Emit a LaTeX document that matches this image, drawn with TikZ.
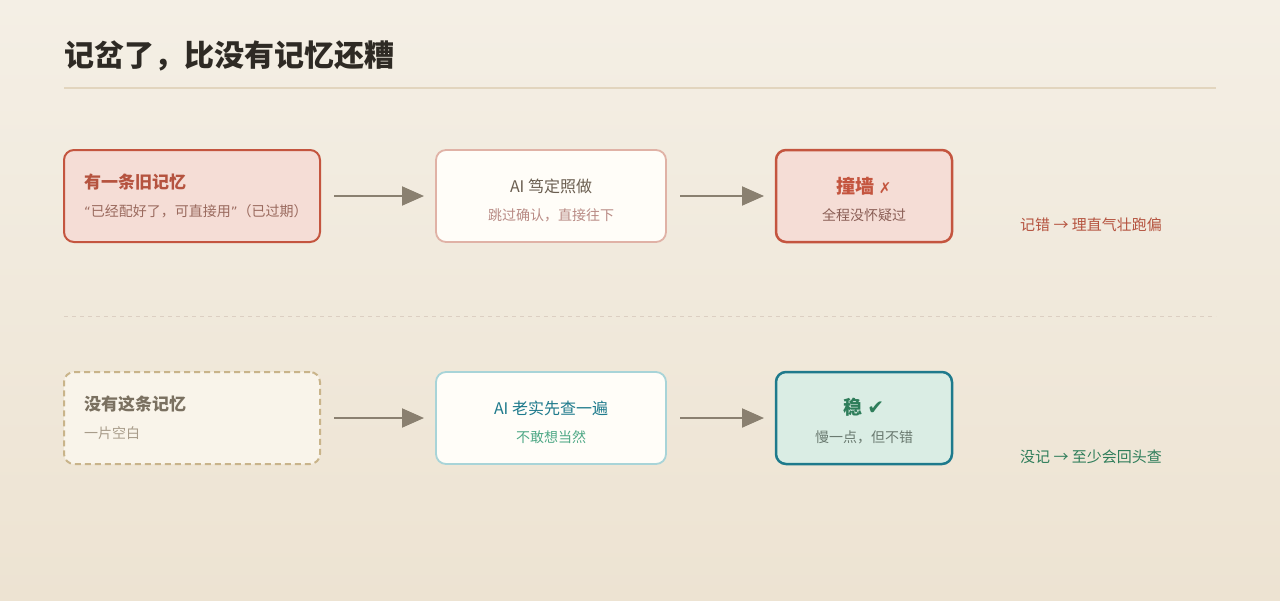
\documentclass[tikz,border=0pt]{standalone}
\usepackage{fontspec}
\setmainfont{Noto Sans CJK SC}
\newfontfamily\symf{DejaVu Sans}
\usetikzlibrary{arrows.meta}
\definecolor{bgtop}{HTML}{F4EFE5}
\definecolor{bgbot}{HTML}{EDE3D2}
\definecolor{ink}{HTML}{2E2A24}
\definecolor{rule}{HTML}{E2D5BE}
\definecolor{redb}{HTML}{C4553F}
\definecolor{redf}{HTML}{F5DDD6}
\definecolor{redt}{HTML}{B5533F}
\definecolor{reds}{HTML}{9A6A5E}
\definecolor{paper}{HTML}{FFFDF8}
\definecolor{pinkb}{HTML}{E0B2A6}
\definecolor{greyt}{HTML}{6A5E50}
\definecolor{pinks}{HTML}{B88A84}
\definecolor{brs}{HTML}{8A5E55}
\definecolor{sandf}{HTML}{F9F4EA}
\definecolor{sandb}{HTML}{C9B48A}
\definecolor{olive}{HTML}{7A7060}
\definecolor{olives}{HTML}{A89C8A}
\definecolor{tealb}{HTML}{A8D4D8}
\definecolor{tealt}{HTML}{1E7A8C}
\definecolor{mint}{HTML}{4FA886}
\definecolor{greenf}{HTML}{DAEDE4}
\definecolor{greent}{HTML}{2E7D5A}
\definecolor{greys}{HTML}{6A7A70}
\definecolor{arrc}{HTML}{8A8070}
\definecolor{divc}{HTML}{DCCFC2}
\tikzset{
  box/.style={rounded corners=10pt, minimum height=92pt, inner sep=0pt, outer sep=0pt},
  arr/.style={draw=arrc, line width=2pt, -{Triangle[length=22pt,width=19pt]}, shorten <=14pt, shorten >=12pt},
  hd/.style={font=\fontsize{17}{20}\selectfont\bfseries},
  sb/.style={font=\fontsize{14}{17}\selectfont},
  md/.style={font=\fontsize{16}{19}\selectfont},
  side/.style={font=\fontsize{15}{18}\selectfont, anchor=west},
}
\begin{document}
\begin{tikzpicture}[x=1pt,y=-1pt]
\shade[top color=bgtop, bottom color=bgbot] (0,0) rectangle (1280,600);
\useasboundingbox (0,0) rectangle (1280,600);
% title
\node[anchor=west, text=ink, font=\fontsize{30}{34}\selectfont\bfseries, inner sep=0pt] (title) at (64,56) {记岔了，比没有记忆还糟};
\draw[rule, line width=1.5pt] (64,88) -- (1216,88);
% row 1
\node[box, draw=redb, line width=2pt, fill=redf, minimum width=256pt, anchor=north west] (a1) at (64,150) {};
\node[box, draw=pinkb, line width=1.8pt, fill=paper, minimum width=230pt, anchor=north west] (a2) at (436,150) {};
\node[box, draw=redb, line width=2.5pt, fill=redf, minimum width=176pt, anchor=north west] (a3) at (776,150) {};
\node[hd, text=redt, anchor=west, inner sep=0pt] (a1h) at (84,182) {有一条旧记忆};
\node[sb, text=reds, anchor=west, inner sep=0pt] (a1s) at (84,211) {{\symf\fontsize{13}{16}\selectfont “}已经配好了，可直接用{\symf\fontsize{13}{16}\selectfont ”}（已过期）};
\node[md, text=greyt, inner sep=0pt] (a2h) at (551,186) {AI 笃定照做};
\node[sb, text=pinks, inner sep=0pt] (a2s) at (551,215) {跳过确认，直接往下};
\node[font=\fontsize{19}{22}\selectfont\bfseries, text=redb, inner sep=0pt] (a3h) at (864,186) {撞墙 {\symf\bfseries\fontsize{15}{18}\selectfont ✗}};
\node[sb, text=brs, inner sep=0pt] (a3s) at (864,215) {全程没怀疑过};
\draw[arr] (a1.east) -- (a2.west);
\draw[arr] (a2.east) -- (a3.west);
\node[side, text=redt, inner sep=0pt] (l1) at (1020,225) {记错 → 理直气壮跑偏};
% divider
\draw[divc, line width=1pt, dash pattern=on 4pt off 4pt] (64,316) -- (1216,316);
% row 2
\node[box, draw=sandb, line width=2pt, dash pattern=on 6pt off 4pt, fill=sandf, minimum width=256pt, anchor=north west] (b1) at (64,372) {};
\node[box, draw=tealb, line width=1.8pt, fill=paper, minimum width=230pt, anchor=north west] (b2) at (436,372) {};
\node[box, draw=tealt, line width=2.5pt, fill=greenf, minimum width=176pt, anchor=north west] (b3) at (776,372) {};
\node[hd, text=olive, anchor=west, inner sep=0pt] (b1h) at (84,404) {没有这条记忆};
\node[sb, text=olives, anchor=west, inner sep=0pt] (b1s) at (84,433) {一片空白};
\node[md, text=tealt, inner sep=0pt] (b2h) at (551,408) {AI 老实先查一遍};
\node[sb, text=mint, inner sep=0pt] (b2s) at (551,437) {不敢想当然};
\node[font=\fontsize{19}{22}\selectfont\bfseries, text=greent, inner sep=0pt] (b3h) at (864,407) {稳 {\symf\bfseries\fontsize{20}{22}\selectfont ✔}};
\node[sb, text=greys, inner sep=0pt] (b3s) at (864,437) {慢一点，但不错};
\draw[arr] (b1.east) -- (b2.west);
\draw[arr] (b2.east) -- (b3.west);
\node[side, text=greent, inner sep=0pt] (l2) at (1020,457) {没记 → 至少会回头查};
\end{tikzpicture}
\end{document}
